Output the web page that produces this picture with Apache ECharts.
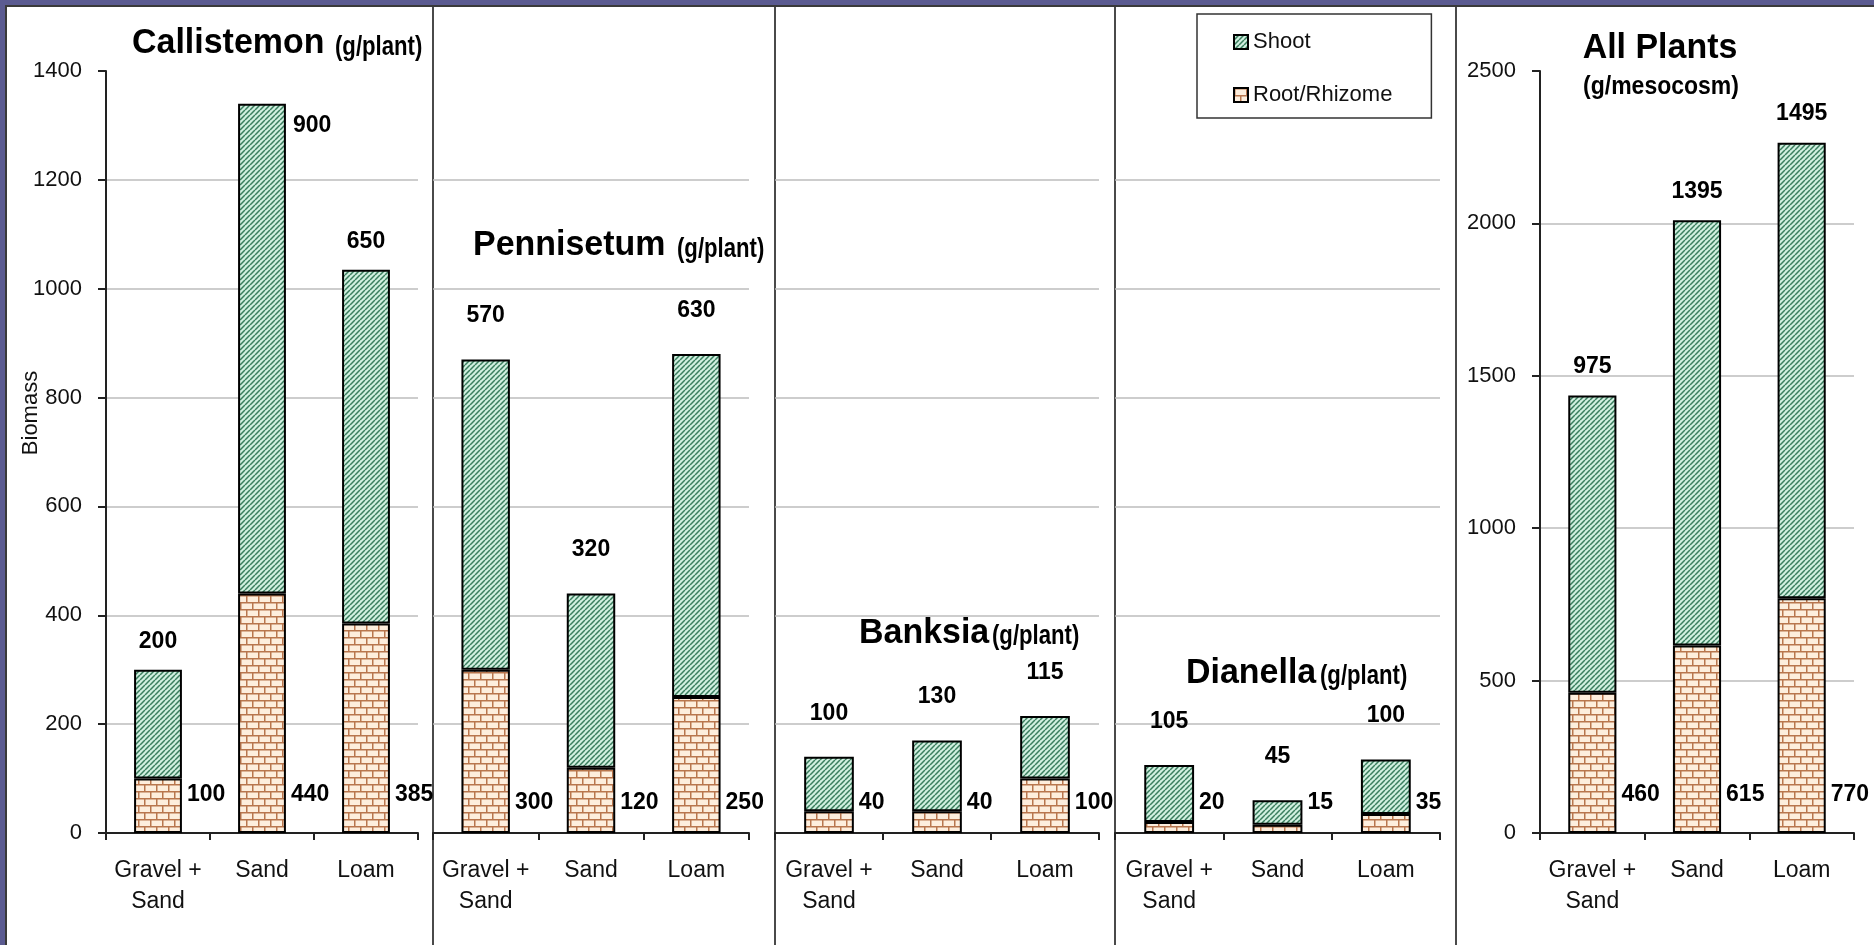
<!DOCTYPE html>
<html><head><meta charset="utf-8">
<script src="https://cdn.jsdelivr.net/npm/echarts@6/dist/echarts.min.js"></script>
<style>html,body{margin:0;padding:0;background:#fff;}#c{width:1874px;height:945px;}</style>
</head><body><div id="c"></div>
<script>
// ---------------- DATA ----------------
const categories = ['Gravel +\nSand', 'Sand', 'Loam'];
const rootCallistemon = [100, 440, 385];
const shootCallistemon = [200, 900, 650];
const rootPennisetum = [300, 120, 250];
const shootPennisetum = [570, 320, 630];
const rootBanksia = [40, 40, 100];
const shootBanksia = [100, 130, 115];
const rootDianella = [20, 15, 35];
const shootDianella = [105, 45, 100];
const rootAllPlants = [460, 615, 770];
const shootAllPlants = [975, 1395, 1495];
const plantAxisTicks = [0, 200, 400, 600, 800, 1000, 1200, 1400];
const allAxisTicks = [0, 500, 1000, 1500, 2000, 2500];

// ---------------- STYLE / LAYOUT ----------------
const sans = "'Liberation Sans', Arial, sans-serif";
const panels = [
  {root: rootCallistemon, shoot: shootCallistemon, ticks: plantAxisTicks, showY: true},
  {root: rootPennisetum, shoot: shootPennisetum, ticks: plantAxisTicks, showY: false},
  {root: rootBanksia, shoot: shootBanksia, ticks: plantAxisTicks, showY: false},
  {root: rootDianella, shoot: shootDianella, ticks: plantAxisTicks, showY: false},
  {root: rootAllPlants, shoot: shootAllPlants, ticks: allAxisTicks, showY: true}
];
const gridBoxes = [
  {left: 106, top: 71, width: 312, height: 762},
  {left: 433, top: 71, width: 316, height: 762},
  {left: 775, top: 71, width: 324, height: 762},
  {left: 1115, top: 71, width: 325, height: 762},
  {left: 1540, top: 71, width: 314, height: 762}
];
const shootLabelDistance = [17, 32, 32, 32, 17];
const rootLabelRise = [38, 30, 30, 30, 38];

function hatchPattern() {
  const n = 5, c = document.createElement('canvas');
  c.width = n; c.height = n;
  const g = c.getContext('2d');
  g.fillStyle = '#d0efdf'; g.fillRect(0, 0, n, n);
  g.strokeStyle = '#3a7e5e'; g.lineWidth = 1.5;
  g.beginPath();
  for (let x0 = -n; x0 <= n; x0 += n) { g.moveTo(x0, n); g.lineTo(x0 + n, 0); }
  g.stroke();
  return {image: c, repeat: 'repeat'};
}
function brickPattern() {
  const w = 12, h = 14, c = document.createElement('canvas');
  c.width = w; c.height = h;
  const g = c.getContext('2d');
  g.fillStyle = '#fdeedd'; g.fillRect(0, 0, w, h);
  g.strokeStyle = '#b8764e'; g.lineWidth = 1.5;
  g.beginPath();
  g.moveTo(0, 0.75); g.lineTo(w, 0.75);
  g.moveTo(0, 7.75); g.lineTo(w, 7.75);
  g.moveTo(0.75, 0); g.lineTo(0.75, 7);
  g.moveTo(6.75, 7); g.lineTo(6.75, h);
  g.stroke();
  return {image: c, repeat: 'repeat'};
}
const shootFill = hatchPattern();
const rootFill = brickPattern();
const valueFont = {fontFamily: sans, fontWeight: 'bold', fontSize: 23, color: '#000'};

const grid = [], xAxis = [], yAxis = [], series = [];
panels.forEach((p, i) => {
  grid.push(Object.assign({containLabel: false}, gridBoxes[i]));
  xAxis.push({
    type: 'category', gridIndex: i, data: categories,
    axisLine: {show: true, lineStyle: {color: '#222', width: 2}},
    axisTick: {show: true, length: 7, lineStyle: {color: '#222', width: 2}},
    axisLabel: {interval: 0, fontFamily: sans, fontSize: 23, lineHeight: 31, color: '#111', margin: 22}
  });
  const t = p.ticks;
  yAxis.push({
    type: 'value', gridIndex: i, min: t[0], max: t[t.length - 1], interval: t[1] - t[0],
    axisLine: {show: p.showY, lineStyle: {color: '#222', width: 2}},
    axisTick: {show: p.showY, length: 8, lineStyle: {color: '#222', width: 2}},
    axisLabel: {show: p.showY, fontFamily: sans, fontSize: 22, color: '#111', margin: 24,
      formatter: v => String(v)},
    splitLine: {show: true, showMaxLine: false, lineStyle: {color: '#bdbdbd', width: 1.5}}
  });
  series.push({
    name: 'Root/Rhizome', type: 'bar', stack: 's' + i, xAxisIndex: i, yAxisIndex: i,
    barWidth: '46%', data: p.root,
    itemStyle: {color: rootFill, borderColor: '#000', borderWidth: 2},
    label: Object.assign({show: true, position: 'insideBottomRight', distance: 0,
      align: 'left', verticalAlign: 'middle', offset: [5, -rootLabelRise[i]]}, valueFont)
  });
  const shootData = p.shoot.map((v, j) => {
    if (i === 0 && j === 1) {
      return {value: v, label: {position: ['100%', 0], distance: 0, align: 'left', verticalAlign: 'middle', offset: [7, 22]}};
    }
    return v;
  });
  series.push({
    name: 'Shoot', type: 'bar', stack: 's' + i, xAxisIndex: i, yAxisIndex: i,
    barWidth: '46%', data: shootData,
    itemStyle: {color: shootFill, borderColor: '#000', borderWidth: 2},
    label: Object.assign({show: true, position: 'top', distance: shootLabelDistance[i]}, valueFont)
  });
});

function titleText(x, y, text, size, align, sx) {
  return {type: 'text', x: x, y: y, z: 10, scaleX: sx || 1,
    style: {text: text, fill: '#000', font: 'bold ' + size + 'px ' + sans, align: align || 'left', verticalAlign: 'middle'}};
}
const purple = '#5b5b91';
const graphic = [
  {type: 'rect', shape: {x: 0, y: 0, width: 1874, height: 5}, style: {fill: purple}, z: -1},
  {type: 'rect', shape: {x: 0, y: 0, width: 5, height: 945}, style: {fill: purple}, z: -1},
  {type: 'rect', shape: {x: 5, y: 5, width: 1869, height: 2}, style: {fill: '#3a3a3a'}, z: -1},
  {type: 'rect', shape: {x: 5, y: 5, width: 2, height: 940}, style: {fill: '#3a3a3a'}, z: -1},
  {type: 'rect', shape: {x: 432, y: 7, width: 2, height: 938}, style: {fill: '#4a4a4a'}, z: -1},
  {type: 'rect', shape: {x: 774, y: 7, width: 2, height: 938}, style: {fill: '#4a4a4a'}, z: -1},
  {type: 'rect', shape: {x: 1114, y: 7, width: 2, height: 938}, style: {fill: '#4a4a4a'}, z: -1},
  {type: 'rect', shape: {x: 1455, y: 7, width: 2, height: 938}, style: {fill: '#4a4a4a'}, z: -1},
  titleText(132, 43, 'Callistemon', 35, 'left', 0.97),
  titleText(335, 48, '(g/plant)', 27, 'left', 0.82),
  titleText(473, 245, 'Pennisetum', 35, 'left', 0.97),
  titleText(677, 250, '(g/plant)', 27, 'left', 0.82),
  titleText(859, 633, 'Banksia', 35, 'left', 0.97),
  titleText(992, 637, '(g/plant)', 27, 'left', 0.82),
  titleText(1186, 673, 'Dianella', 35, 'left', 0.97),
  titleText(1320, 677, '(g/plant)', 27, 'left', 0.82),
  titleText(1660, 48, 'All Plants', 35, 'center', 0.97),
  titleText(1661, 87, '(g/mesocosm)', 25, 'center', 0.92),
  {type: 'text', x: 31, y: 413, rotation: Math.PI / 2, z: 10,
    style: {text: 'Biomass', fill: '#111', font: '22px ' + sans, align: 'center', verticalAlign: 'middle'}}
];

const chart = echarts.init(document.getElementById('c'), null, {renderer: 'canvas'});
chart.setOption({
  animation: false,
  backgroundColor: '#fff',
  grid: grid, xAxis: xAxis, yAxis: yAxis, series: series, graphic: graphic,
  legend: {
    data: ['Shoot', 'Root/Rhizome'], orient: 'vertical', left: 1197, top: 14,
    padding: [16, 39, 11, 36], itemWidth: 14, itemHeight: 14, itemGap: 29,
    backgroundColor: '#fff', borderColor: '#333', borderWidth: 1.5, icon: 'rect',
    textStyle: {fontFamily: sans, fontSize: 22, color: '#111', lineHeight: 24},
    selectedMode: false
  }
});
</script></body></html>
